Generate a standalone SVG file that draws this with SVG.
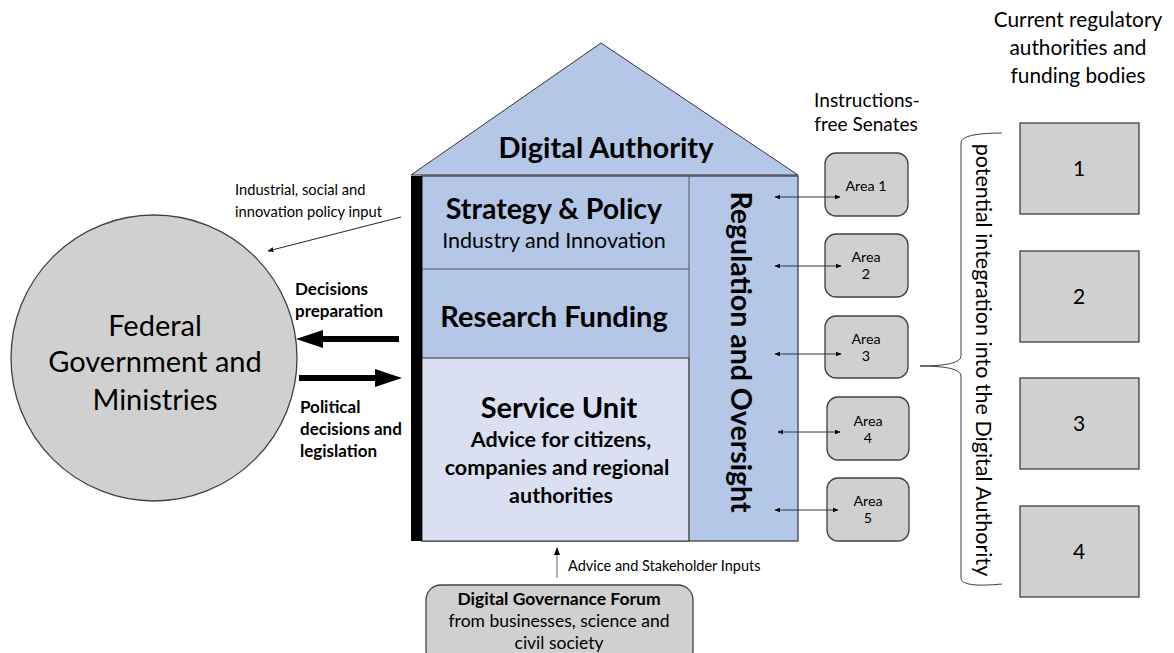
<svg xmlns="http://www.w3.org/2000/svg" width="1174" height="653" viewBox="0 0 1174 653">
<defs>
<style>
text{font-family:Lato,"Liberation Sans",sans-serif;fill:#000}
.b{font-weight:bold}
.c{text-anchor:middle}
.gray{fill:#d0d0d0;stroke:#404040;stroke-width:1.3}
.thin{stroke:#404040;stroke-width:1;fill:none}
</style>
<marker id="ah" viewBox="0 0 10 10" refX="9" refY="5" markerWidth="6" markerHeight="6" orient="auto-start-reverse"><path d="M0,1 L10,5 L0,9 z" fill="#000"/></marker>
</defs>
<rect width="1174" height="653" fill="#fff"/>

<g id="house">
<polygon points="411,175 601,43 798,175" fill="#b4c7e7" stroke="#333" stroke-width="1"/>
<rect x="422" y="176" width="376" height="365" fill="#b4c7e7" stroke="#333" stroke-width="1.2"/>
<rect x="422" y="358" width="267" height="183" fill="#dae0f2" stroke="#333" stroke-width="1"/>
<line x1="689" y1="176" x2="689" y2="541" stroke="#555" stroke-width="1"/>
<line x1="422" y1="269" x2="689" y2="269" stroke="#555" stroke-width="1"/>
<rect x="411" y="176" width="11" height="365" fill="#000"/>
<text class="b c" x="606" y="158" font-size="29">Digital Authority</text>
<text class="b c" x="554" y="219" font-size="28.5">Strategy &amp; Policy</text>
<text class="c" x="554" y="248" font-size="21.5">Industry and Innovation</text>
<text class="b c" x="554" y="327" font-size="29">Research Funding</text>
<text class="b c" x="559" y="418" font-size="29">Service Unit</text>
<text class="b c" x="561" y="447" font-size="21.5">Advice for citizens,</text>
<text class="b c" x="557" y="475" font-size="21.5">companies and regional</text>
<text class="b c" x="561" y="503" font-size="21.5">authorities</text>
<text class="b c" font-size="28.5" transform="translate(731,352) rotate(90)">Regulation and Oversight</text>
</g>

<g id="federal">
<circle cx="154" cy="358" r="143" class="gray"/>
<text class="c" x="155" y="336" font-size="29">Federal</text>
<text class="c" x="155" y="372" font-size="29">Government and</text>
<text class="c" x="155" y="410" font-size="29">Ministries</text>
</g>

<g id="senates">
<text class="c" x="867" y="107" font-size="19">Instructions-</text>
<text class="c" x="866" y="131" font-size="19">free Senates</text>
<g id="area1"><rect x="825" y="153" width="83" height="63" rx="11" class="gray"/><text class="c" x="866" y="191" font-size="14.3">Area 1</text></g>
<g id="area2"><rect x="825" y="234" width="83" height="63" rx="11" class="gray"/><text class="c" x="866" y="262" font-size="14.3">Area</text><text class="c" x="866" y="279" font-size="14.3">2</text></g>
<g id="area3"><rect x="825" y="316" width="83" height="62" rx="11" class="gray"/><text class="c" x="866" y="344" font-size="14.3">Area</text><text class="c" x="866" y="361" font-size="14.3">3</text></g>
<g id="area4"><rect x="827" y="397" width="82" height="63" rx="11" class="gray"/><text class="c" x="868" y="426" font-size="14.3">Area</text><text class="c" x="868" y="443" font-size="14.3">4</text></g>
<g id="area5"><rect x="827" y="478" width="82" height="63" rx="11" class="gray"/><text class="c" x="868" y="506" font-size="14.3">Area</text><text class="c" x="868" y="523" font-size="14.3">5</text></g>
</g>

<g id="current">
<text class="c" x="1078" y="27" font-size="20.8">Current regulatory</text>
<text class="c" x="1078" y="55" font-size="20.8">authorities and</text>
<text class="c" x="1078" y="83" font-size="20.8">funding bodies</text>
<g id="body1"><rect x="1020" y="123" width="119" height="91" class="gray"/><text class="c" x="1079" y="176" font-size="21">1</text></g>
<g id="body2"><rect x="1020" y="251" width="119" height="91" class="gray"/><text class="c" x="1079" y="304" font-size="21">2</text></g>
<g id="body3"><rect x="1020" y="378" width="119" height="91" class="gray"/><text class="c" x="1079" y="431" font-size="21">3</text></g>
<g id="body4"><rect x="1020" y="506" width="119" height="91" class="gray"/><text class="c" x="1079" y="559" font-size="21">4</text></g>
</g>

<g id="brace">
<path d="M1002,133 Q961,133 961,143 L961,356 Q961,366 920,366 Q961,366 961,376 L961,578 Q961,588 1002,584" class="thin" stroke="#222"/>
<text class="c" font-size="21.5" transform="translate(976,360) rotate(90)">potential integration into the Digital Authority</text>
</g>

<g id="forum">
<rect x="426" y="585" width="267" height="80" rx="15" class="gray"/>
<text class="b c" x="559" y="605" font-size="17.5">Digital Governance Forum</text>
<text class="c" x="559" y="627" font-size="17.5">from businesses, science and</text>
<text class="c" x="559" y="649" font-size="17.5">civil society</text>
</g>

<g id="connectors">
<line x1="775" y1="197" x2="840" y2="197" stroke="#333" stroke-width="1" marker-start="url(#ah)" marker-end="url(#ah)"/>
<line x1="775" y1="266" x2="841" y2="266" stroke="#333" stroke-width="1" marker-start="url(#ah)" marker-end="url(#ah)"/>
<line x1="775" y1="354" x2="841" y2="354" stroke="#333" stroke-width="1" marker-start="url(#ah)" marker-end="url(#ah)"/>
<line x1="778" y1="432" x2="840" y2="432" stroke="#333" stroke-width="1" marker-start="url(#ah)" marker-end="url(#ah)"/>
<line x1="775" y1="510" x2="838" y2="510" stroke="#333" stroke-width="1" marker-start="url(#ah)" marker-end="url(#ah)"/>
<line x1="401" y1="217" x2="268" y2="251" stroke="#222" stroke-width="1" marker-end="url(#ah)"/>
<line x1="557" y1="578" x2="557" y2="548" stroke="#888" stroke-width="1.3" marker-end="url(#ah)"/>
<polygon points="399,336 323,336 323,330 296,339 323,348 323,342 399,342" fill="#000"/>
<polygon points="299,375 375,375 375,369 402,378 375,387 375,381 299,381" fill="#000"/>
<text x="235" y="195" font-size="14.7">Industrial, social and</text>
<text x="235" y="217" font-size="14.7">innovation policy input</text>
<text class="b" x="295" y="295" font-size="17">Decisions</text>
<text class="b" x="295" y="317" font-size="17">preparation</text>
<text class="b" x="300" y="413" font-size="17">Political</text>
<text class="b" x="300" y="435" font-size="17">decisions and</text>
<text class="b" x="300" y="457" font-size="17">legislation</text>
<text x="568" y="571" font-size="14.5">Advice and Stakeholder Inputs</text>
</g>
</svg>
